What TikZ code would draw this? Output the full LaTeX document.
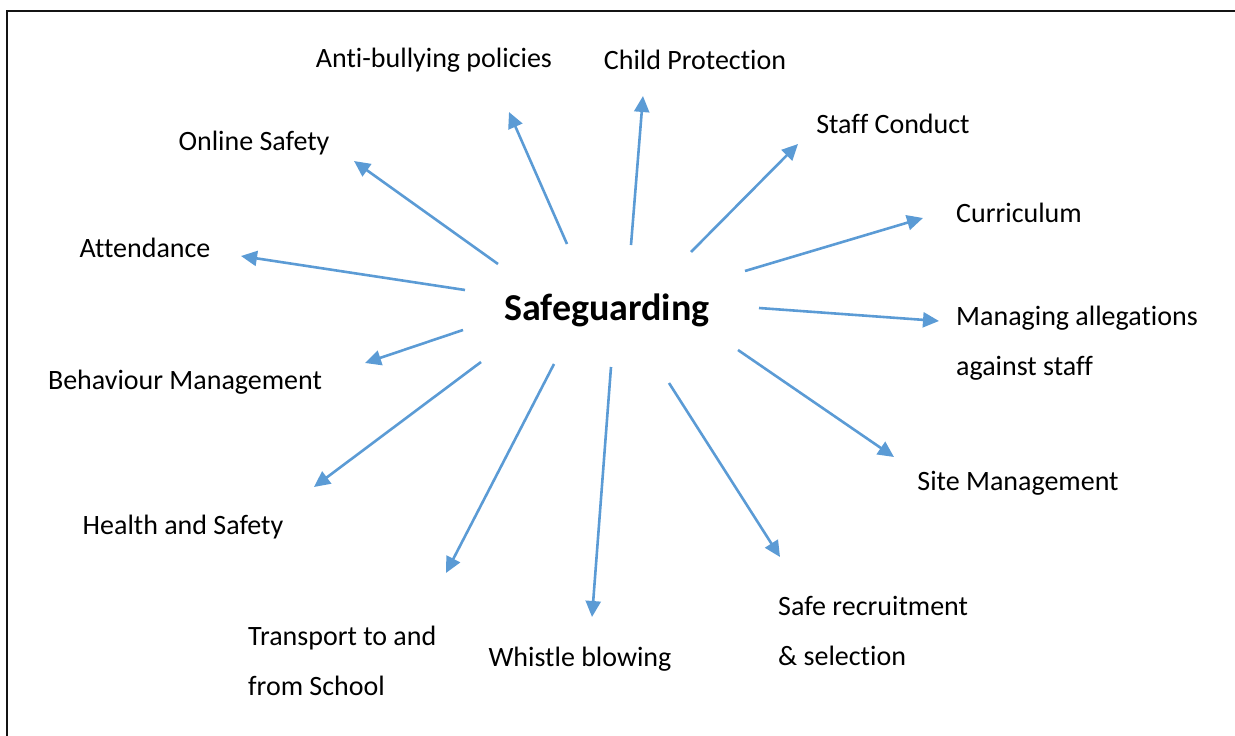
\documentclass[tikz,border=0pt]{standalone}
\usepackage{fontspec}
\setmainfont[Ligatures={NoCommon}]{Carlito}
\usetikzlibrary{arrows.meta}
\definecolor{spoke}{RGB}{91,155,213}
\definecolor{frameline}{RGB}{20,20,20}
\begin{document}
\begin{tikzpicture}[x=1pt,y=-1pt,
  topic/.style={inner sep=0pt,font=\fontsize{28}{50}\selectfont},
  multi/.style={topic,align=left,anchor=west},
  hub/.style={inner sep=0pt,font=\fontsize{38}{44}\selectfont\bfseries},
  spokearrow/.style={draw=spoke,line width=2.6pt,-{Triangle[length=16pt,width=15pt]}}]
\useasboundingbox (0,0) rectangle (1235,736);
% open frame: top and left edges
\draw[frameline,line width=2.4pt] (7,736) -- (7,11) -- (1235,11);

\node[hub] (hub) at (607,310) {Safeguarding};

\node[topic] (anti)  at (434,60)  {Anti-bullying policies};
\node[topic] (child) at (695,60)  {Child Protection};
\node[topic] (online) at (254,143) {Online Safety};
\node[topic] (staff) at (893,124) {Staff Conduct};
\node[topic] (curr)  at (1019,213) {Curriculum};
\node[topic] (attend) at (145,248) {Attendance};
\node[multi] (manage) at (956,343) {Managing allegations\\against staff};
\node[topic] (behav) at (185,382) {Behaviour Management};
\node[topic] (site)  at (1018,483) {Site Management};
\node[topic] (health) at (183,527) {Health and Safety};
\node[multi] (trans) at (248,661) {Transport to and\\from School};
\node[topic] (whistle) at (580,659) {Whistle blowing};
\node[multi] (safe)  at (778,631) {Safe recruitment\\\& selection};

% spoke start and tip points
\coordinate (s1) at (498,264);  \coordinate (t1) at (354,161);
\coordinate (s2) at (567,244);  \coordinate (t2) at (509,112);
\coordinate (s3) at (631,245);  \coordinate (t3) at (643,96);
\coordinate (s4) at (691,252);  \coordinate (t4) at (798,144);
\coordinate (s5) at (745,271);  \coordinate (t5) at (923,218);
\coordinate (s6) at (759,308);  \coordinate (t6) at (939,321);
\coordinate (s7) at (738,350);  \coordinate (t7) at (894,457);
\coordinate (s8) at (669,383);  \coordinate (t8) at (780,557);
\coordinate (s9) at (611,367);  \coordinate (t9) at (592,617);
\coordinate (s10) at (554,364); \coordinate (t10) at (446,573);
\coordinate (s11) at (481,362); \coordinate (t11) at (314,487);
\coordinate (s12) at (463,330); \coordinate (t12) at (365,363);
\coordinate (s13) at (465,290); \coordinate (t13) at (241,256);

\foreach \i in {1,...,13} \draw[spokearrow] (s\i) -- (t\i);
\end{tikzpicture}
\end{document}
